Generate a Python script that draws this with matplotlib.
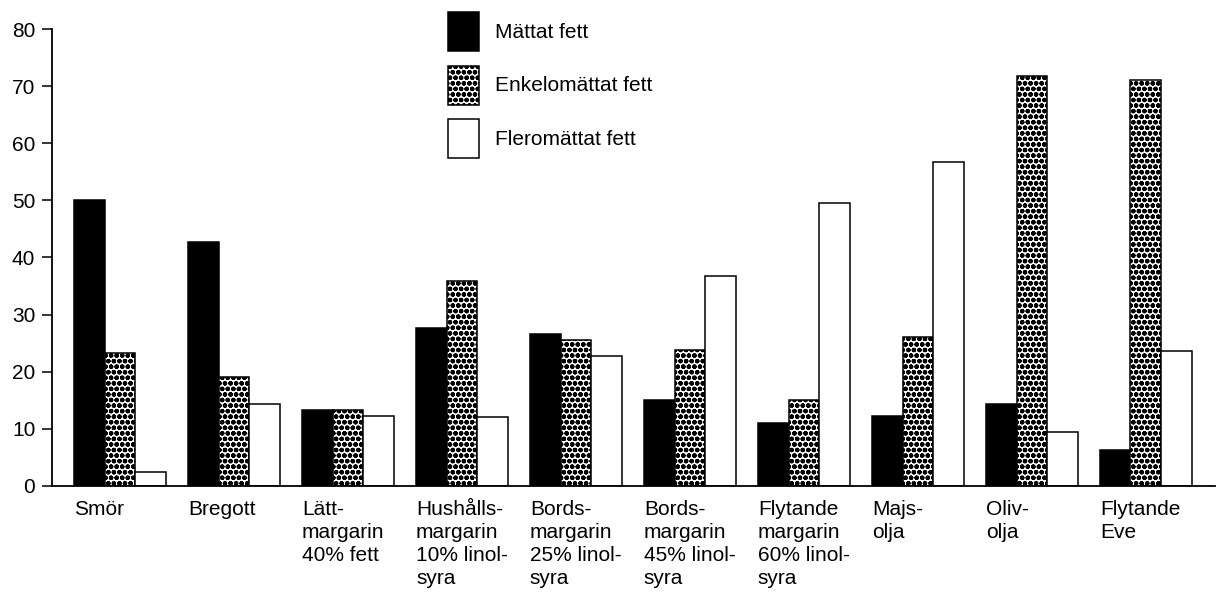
import matplotlib
matplotlib.use("Agg")
import matplotlib.pyplot as plt
import numpy as np

categories = ["Smör", "Bregott", "Lätt-\nmargarin\n40% fett",
              "Hushålls-\nmargarin\n10% linol-\nsyra",
              "Bords-\nmargarin\n25% linol-\nsyra",
              "Bords-\nmargarin\n45% linol-\nsyra",
              "Flytande\nmargarin\n60% linol-\nsyra",
              "Majs-\nolja", "Oliv-\nolja", "Flytande\nEve"]
mattat = [50.0, 42.8, 13.2, 27.6, 26.6, 15.0, 11.0, 12.3, 14.3, 6.3]
enkel = [23.3, 19.1, 13.2, 35.9, 25.5, 23.8, 15.1, 26.1, 71.9, 71.1]
flero = [2.4, 14.3, 12.2, 12.0, 22.7, 36.8, 49.6, 56.7, 9.4, 23.6]
series_names = ["Mättat fett", "Enkelomättat fett", "Fleromättat fett"]
yticks = [0, 10, 20, 30, 40, 50, 60, 70, 80]

plt.rcParams['font.family'] = ['Liberation Sans', 'DejaVu Sans']
plt.rcParams['hatch.linewidth'] = 1.6
plt.rcParams['hatch.color'] = 'black'

fs = 15
fig = plt.figure(figsize=(12.18, 5.92), dpi=100)
ax = fig.add_axes([0.0427, 0.1796, 0.9548, 0.7709])

x = np.arange(len(categories))
w = 0.269
lw = 1.1
b1 = ax.bar(x, mattat, width=w, align='edge', color='black', edgecolor='black',
            linewidth=lw, label=series_names[0])
b2 = ax.bar(x + w, enkel, width=w, align='edge', color='white', edgecolor='black',
            hatch='ooo', linewidth=lw, label=series_names[1])
b3 = ax.bar(x + 2 * w, flero, width=w, align='edge', color='white', edgecolor='black',
            linewidth=lw, label=series_names[2])

ax.set_xlim(-0.193, 10.01)
ax.set_ylim(0, 80)
ax.set_yticks(yticks)
ax.set_yticklabels([str(v) for v in yticks], fontsize=fs)
ax.tick_params(axis='y', direction='out', length=7, width=1.1, pad=5)

ax.set_xticks(x)
ax.set_xticklabels(categories, fontsize=fs, ha='left', va='top', linespacing=1.28)
ax.tick_params(axis='x', length=0, pad=10)

for s in ['top', 'right']:
    ax.spines[s].set_visible(False)
for s in ['left', 'bottom']:
    ax.spines[s].set_linewidth(1.3)

leg = ax.legend(handles=[b1, b2, b3], loc='upper left',
                bbox_to_anchor=(448 / 1218, 1 - 12 / 592),
                bbox_transform=fig.transFigure, frameon=False, fontsize=fs,
                handlelength=1.49, handleheight=2.5, labelspacing=0.7,
                handletextpad=0.77, borderpad=0, borderaxespad=0)

fig.savefig("out.png", dpi=100)
